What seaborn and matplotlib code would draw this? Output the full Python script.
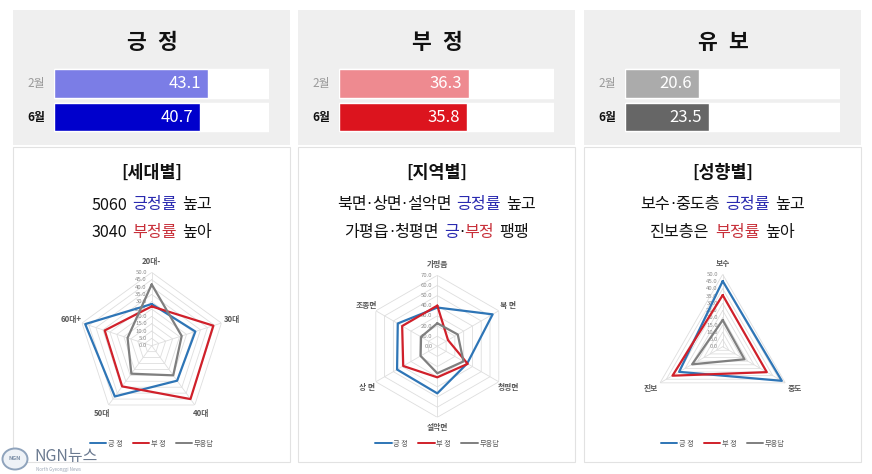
import numpy as np
import pandas as pd
import matplotlib
matplotlib.use('Agg')
import matplotlib.pyplot as plt
import seaborn as sns
from matplotlib.patches import Rectangle, Ellipse
from matplotlib.lines import Line2D

sns.set_style('white')
plt.rcParams['font.family'] = ['Noto Sans CJK KR', 'DejaVu Sans']

# ---- data -------------------------------------------------------------
months = ['2월', '6월']
pos_share = [43.1, 40.7]
neg_share = [36.3, 35.8]
undecided_share = [20.6, 23.5]

series_names = ['긍 정', '부 정', '무응답']

age_groups = ['20대-', '30대', '40대', '50대', '60대+']
age_pos = [28.4, 31.3, 29.5, 42.8, 47.7]
age_neg = [26.8, 44.2, 45.0, 34.3, 33.7]
age_none = [41.8, 21.5, 25.0, 23.6, 17.3]

region_names = ['가평읍', '북 면', '청평면', '설악면', '상 면', '조종면']
region_pos = [38.2, 63.0, 34.0, 46.4, 45.8, 45.0]
region_neg = [40.1, 12.2, 34.6, 30.6, 38.8, 40.0]
region_none = [22.7, 23.3, 29.8, 26.6, 19.0, 18.5]

lean_names = ['보수', '중도', '진보']
lean_pos = [45.4, 47.2, 34.8]
lean_neg = [35.7, 35.2, 40.1]
lean_none = [18.4, 17.4, 24.4]

# ---- layout -----------------------------------------------------------
W, H = 872, 474
fig = plt.figure(figsize=(W / 100, H / 100), dpi=100)
bg = fig.add_axes([0, 0, 1, 1])
bg.set_xlim(0, W)
bg.set_ylim(H, 0)
bg.axis('off')

panel_left = [13, 298, 584]
panel_w = 277
line_cols = ['#2E75B6', '#D0202A', '#7F7F7F']
blue_txt = '#2A2AB0'
red_txt = '#C8303A'

renderer = fig.canvas.get_renderer()


def rich_line(cx, y, parts, size, weight='normal', gap_em=0.32):
    # split pieces on the middle dot so it can be drawn tight (DejaVu)
    tokens = []
    for s, c in parts:
        if s == ' ':
            tokens.append((s, c))
            continue
        bits = s.split('·')
        for b_i, b in enumerate(bits):
            if b_i > 0:
                tokens.append(('·', c))
            if b:
                tokens.append((b, c))
    gap = size * 100 / 72 * gap_em
    items = []
    total = 0
    for s, c in tokens:
        if s == ' ':
            items.append((None, gap))
            total += gap
        else:
            fam = ['DejaVu Sans'] if s == '·' else None
            t = bg.text(0, y, s, color=c, fontsize=size, ha='left',
                        va='center', fontweight=weight, family=fam)
            w = t.get_window_extent(renderer).width
            items.append((t, w))
            total += w
    x = cx - total / 2
    for t, w in items:
        if t is not None:
            t.set_x(x)
        x += w


def header(i, title, vals, cols):
    pl = panel_left[i]
    cx = pl + panel_w / 2
    bg.add_patch(Rectangle((pl, 10), panel_w, 135, facecolor='#EFEFEF',
                           edgecolor='none'))
    bg.add_patch(Rectangle((pl, 147), panel_w, 315, facecolor='white',
                           edgecolor='#E2E2E2', lw=0.8))
    # title with the wide letter spacing of the original
    rich_line(cx, 42, [(title[0], '#111111'), (' ', None),
                       (title[-1], '#111111')], 15.5, weight='bold',
              gap_em=0.55)
    bg.text(pl + 23, 83.5, months[0], ha='center', va='center',
            fontsize=8.5, color='#9A9A9A')
    bg.text(pl + 23, 117, months[1], ha='center', va='center',
            fontsize=8.5, color='#111111', fontweight='bold')

    bax = fig.add_axes([(pl + 41) / W, 1 - 133.75 / H, 215 / W, 67 / H])
    sns.barplot(x=[60, 60], y=months, color='white', width=0.86,
                saturation=1, ax=bax)
    sns.barplot(x=vals, y=months, hue=months, palette=cols, width=0.86,
                saturation=1, legend=False, ax=bax)
    bax.set_xlim(0, 60)
    bax.axis('off')
    for j, v in enumerate(vals):
        bax.annotate(f'{v:.1f}', xy=(v, j), xytext=(-5, 0),
                     textcoords='offset points', ha='right', va='center',
                     color='white', fontsize=12)


header(0, '긍 정', pos_share, ['#7B7DE6', '#0000CC'])
header(1, '부 정', neg_share, ['#EE8A90', '#DC141E'])
header(2, '유 보', undecided_share, ['#ABABAB', '#666666'])

# ---- section captions -------------------------------------------------
k = '#111111'
captions = [
    ('[세대별]',
     [('5060', k), (' ', None), ('긍정률', blue_txt), (' ', None), ('높고', k)],
     [('3040', k), (' ', None), ('부정률', red_txt), (' ', None), ('높아', k)]),
    ('[지역별]',
     [('북면·상면·설악면', k), (' ', None), ('긍정률', blue_txt), (' ', None),
      ('높고', k)],
     [('가평읍·청평면', k), (' ', None), ('긍', blue_txt), ('·', k),
      ('부정', red_txt), (' ', None), ('팽팽', k)]),
    ('[성향별]',
     [('보수·중도층', k), (' ', None), ('긍정률', blue_txt), (' ', None),
      ('높고', k)],
     [('진보층은', k), (' ', None), ('부정률', red_txt), (' ', None),
      ('높아', k)]),
]
for i, (head, l1, l2) in enumerate(captions):
    cx = panel_left[i] + panel_w / 2
    bg.text(cx, 173, head, ha='center', va='center', fontsize=12.5,
            fontweight='bold', color=k)
    rich_line(cx, 205, l1, 11.6)
    rich_line(cx, 232, l2, 11.6)


# ---- radar charts -----------------------------------------------------
def radar(cx, cy, rad, cats, series, rmax, step):
    pax = fig.add_axes([(cx - rad) / W, 1 - (cy + rad) / H, 2 * rad / W,
                        2 * rad / H], projection='polar')
    pax.set_theta_zero_location('N')
    pax.set_theta_direction(-1)
    pax.grid(False)
    pax.spines['polar'].set_visible(False)
    pax.patch.set_alpha(0)
    n = len(cats)
    theta = np.linspace(0, 2 * np.pi, n, endpoint=False)
    tc = np.append(theta, 2 * np.pi)
    for r in np.arange(step, rmax + step / 2, step):
        pax.plot(tc, [r] * (n + 1), color='#DEDEDE', lw=0.6, zorder=1)
    for t in theta:
        pax.plot([t, t], [0, rmax], color='#DEDEDE', lw=0.6, zorder=1)
    for r in np.arange(0, rmax + step / 2, step):
        pax.annotate(f'{r:.1f}', xy=(0, r), xytext=(-3.5, 0),
                     textcoords='offset points', ha='right', va='center',
                     fontsize=4.3, color='#8C8C8C', zorder=2)
    for t, c in zip(theta, cats):
        pax.text(t, rmax * 1.15, c, ha='center', va='center', fontsize=5.6,
                 color='#595959', fontweight='bold')
    rows = []
    for name, vals in zip(series_names, series):
        for t, v in zip(tc, list(vals) + [vals[0]]):
            rows.append((t, v, name))
    df = pd.DataFrame(rows, columns=['theta', 'value', 'series'])
    sns.lineplot(data=df, x='theta', y='value', hue='series',
                 palette=line_cols, sort=False, estimator=None, lw=1.6,
                 legend=False, ax=pax, zorder=3)
    pax.set_ylim(0, rmax)
    pax.set_xticks([])
    pax.set_yticks([])
    pax.set_xlabel('')
    pax.set_ylabel('')

    handles = [Line2D([], [], color=c, lw=1.4) for c in line_cols]
    fig.legend(handles, series_names, loc='center', ncol=3,
               bbox_to_anchor=(cx, 444), bbox_transform=bg.transData,
               fontsize=5.2, frameon=False, handlelength=2.3,
               handletextpad=0.2, columnspacing=1.4, labelcolor='#595959')


radar(151.7, 345.7, 73.3, age_groups, [age_pos, age_neg, age_none], 50, 5)
radar(437.3, 346.3, 71, region_names, [region_pos, region_neg, region_none],
      70, 10)
radar(722.7, 346.7, 72.3, lean_names, [lean_pos, lean_neg, lean_none], 50, 5)

# ---- logo -------------------------------------------------------------
bg.add_patch(Ellipse((15, 459), 25, 21, facecolor='#EEF2F7',
                     edgecolor='#8FA3BC', lw=1.4))
bg.text(15, 459, 'NGN', ha='center', va='center', fontsize=4,
        color='#7A8DA6', style='italic', fontweight='bold')
bg.text(34, 457, 'NGN뉴스', ha='left', va='center', fontsize=11.5,
        color='#6B7A90')
bg.text(36, 469, 'North Gyeonggi News', ha='left', va='center',
        fontsize=3.2, color='#9AA5B5')

fig.savefig('out.png', dpi=100)
